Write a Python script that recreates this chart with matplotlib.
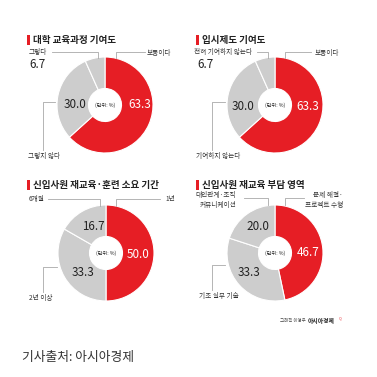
import matplotlib
matplotlib.use("Agg")
import matplotlib.pyplot as plt
from matplotlib.patches import Rectangle

plt.rcParams['font.family'] = ['Noto Sans CJK KR', 'DejaVu Sans']

# ---------------- data ----------------
titles = ["대학 교육과정 기여도", "입시제도 기여도",
          "신입사원 재교육·훈련 소요 기간", "신입사원 재교육 부담 영역"]
values1 = [63.3, 30.0, 6.7]
values2 = [63.3, 30.0, 6.7]
values3 = [50.0, 33.3, 16.7]
values4 = [46.7, 33.3, 20.0]
labels1 = ["보통이다", "그렇지 않다", "그렇다"]
labels2 = ["보통이다", "기여하지 않는다", "전혀 기여하지 않는다"]
labels3 = ["1년", "2년 이상", "6개월"]
labels4 = ["문제 해결·\n프로젝트 수행", "기초 실무 기술", "대인관계·조직\n커뮤니케이션"]
unit_label = "(단위: %)"
source_text = "기사출처: 아시아경제"

RED = "#e61e25"
GRAY = "#cdcdcd"
LINE = "#a8a8a8"
DARK = "#222222"

W = H = 377
fig = plt.figure(figsize=(3.77, 3.77), dpi=100)
ax = fig.add_axes([0, 0, 1, 1])


def Y(py):
    return H - py


centers = [(105, 105), (275, 105), (106, 253), (275, 253)]
all_values = [values1, values2, values3, values4]
all_labels = [labels1, labels2, labels3, labels4]
R_OUT, R_IN = 48, 16.5

for (cx, cy), vals in zip(centers, all_values):
    ax.pie(vals, colors=[RED, GRAY, GRAY], startangle=90, counterclock=False,
           center=(cx, Y(cy)), radius=R_OUT,
           wedgeprops=dict(width=R_OUT - R_IN, edgecolor="white", linewidth=0.8))
    ax.text(cx, Y(cy), unit_label, fontsize=3.7, ha="center", va="center", color=DARK)

# titles with red bars
title_pos = [(27, 40), (196, 40), (27, 185), (196, 185)]
for (tx, ty), t in zip(title_pos, titles):
    ax.add_patch(Rectangle((tx, Y(ty + 5)), 3, 10, color=RED, lw=0))
    ax.text(tx + 6, Y(ty), t, fontsize=6.9, fontweight="bold", ha="left",
            va="center", color=DARK)

# value labels (value index -> position, colour)
val_pos = [
    [(140, 105, "white"), (75, 105, DARK), (37, 64, DARK)],
    [(308, 106, "white"), (243, 106, DARK), (205, 64, DARK)],
    [(138, 254, "white"), (83, 272, DARK), (93, 227, DARK)],
    [(308, 253, "white"), (249, 272, DARK), (258, 227, DARK)],
]
for vals, poss in zip(all_values, val_pos):
    for v, (px, py, c) in zip(vals, poss):
        ax.text(px, Y(py), f"{v:.1f}", fontsize=8.4, ha="center", va="center",
                color=c, fontweight="medium")

# category labels: (x, y, ha)
lab_pos = [
    [(147, 53, "left"), (28, 156, "left"), (29, 52, "left")],
    [(315, 53, "left"), (196, 156, "left"), (194, 52, "left")],
    [(165, 199, "left"), (29, 298, "left"), (29, 199, "left")],
    [(343, 200, "right"), (199, 296, "left"), (236, 200, "right")],
]
for labs, poss in zip(all_labels, lab_pos):
    for lab, (px, py, ha) in zip(labs, poss):
        ax.text(px, Y(py), lab, fontsize=4.8, ha=ha, va="center", color="#333333",
                linespacing=1.2, multialignment=ha)

# leader lines
leaders = [
    [(52, 52), (98, 52), (98, 58)], [(116, 58), (116, 52), (145, 52)],
    [(55, 102), (43, 102), (43, 150)],
    [(257, 52), (268, 52), (268, 58)], [(285, 58), (285, 52), (311, 52)],
    [(225, 102), (212, 102), (212, 150)],
    [(48, 199), (100, 199), (100, 206)], [(116, 206), (116, 199), (160, 199)],
    [(57, 267), (43, 267), (43, 292)],
    [(244, 198), (268, 198), (268, 205)], [(285, 205), (285, 198), (304, 198)],
    [(225, 265), (212, 265), (212, 290)],
]
for pts in leaders:
    ax.plot([p[0] for p in pts], [Y(p[1]) for p in pts], color=LINE, lw=0.6)

# credit
ax.text(280, Y(321), "그래픽 이영우", fontsize=3.2, ha="left", va="center", color="#444444")
ax.text(308, Y(321), "아시아경제", fontsize=4.2, fontweight="bold", ha="left",
        va="center", color=DARK)
ax.text(339, Y(318), "Q", fontsize=2.6, ha="left", va="center", color=RED)

# source caption
ax.text(22, Y(357), source_text, fontsize=9.2, ha="left", va="center", color="#333333")

ax.set_xlim(0, W)
ax.set_ylim(0, H)
ax.set_aspect("equal")
ax.axis("off")

fig.savefig("out.png", dpi=100, facecolor="white")
